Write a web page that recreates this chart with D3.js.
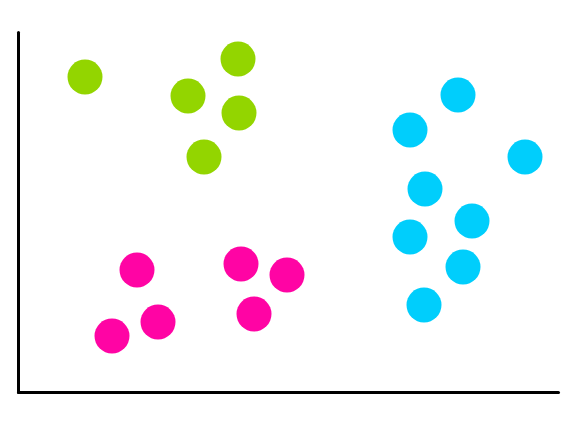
<!DOCTYPE html>
<html><head><meta charset="utf-8">
<script src="https://cdn.jsdelivr.net/npm/d3@7"></script>
<style>html,body{margin:0;padding:0;background:#fff;}svg{display:block;}</style>
</head><body>
<svg id="c" width="577" height="432"></svg>
<script>
const groups = ["green", "magenta", "cyan"];
const greenX = [67, 170, 220, 221, 186];
const greenY = [315, 296, 333, 279, 235];
const magentaX = [119, 223, 269, 140, 94, 236];
const magentaY = [122, 128, 117, 70, 56, 78];
const cyanX = [440, 392, 507, 407, 454, 392, 445, 406];
const cyanY = [297, 262, 235, 203, 171, 155, 125, 87];
const colors = {green: "#93d500", magenta: "#ff04a4", cyan: "#00cefc"};

const points = [];
[[greenX, greenY, "green"], [magentaX, magentaY, "magenta"], [cyanX, cyanY, "cyan"]]
  .forEach(([xs, ys, g]) => xs.forEach((x, i) => points.push({x, y: ys[i], g})));

const svg = d3.select("#c");
const x = d3.scaleLinear().domain([0, 540]).range([18, 558]);
const y = d3.scaleLinear().domain([0, 360]).range([392, 32]);

svg.append("g").selectAll("circle").data(points).join("circle")
  .attr("cx", d => x(d.x)).attr("cy", d => y(d.y)).attr("r", 17.5)
  .attr("fill", d => colors[d.g]);

const ax = svg.append("g").attr("transform", `translate(0,${y(0)})`)
  .call(d3.axisBottom(x).ticks(0).tickSize(0).tickSizeOuter(0));
const ay = svg.append("g").attr("transform", `translate(${x(0)},0)`)
  .call(d3.axisLeft(y).ticks(0).tickSize(0).tickSizeOuter(0));
svg.selectAll(".domain").attr("stroke", "#000").attr("stroke-width", 3).attr("stroke-linecap", "round");
</script>
</body></html>
